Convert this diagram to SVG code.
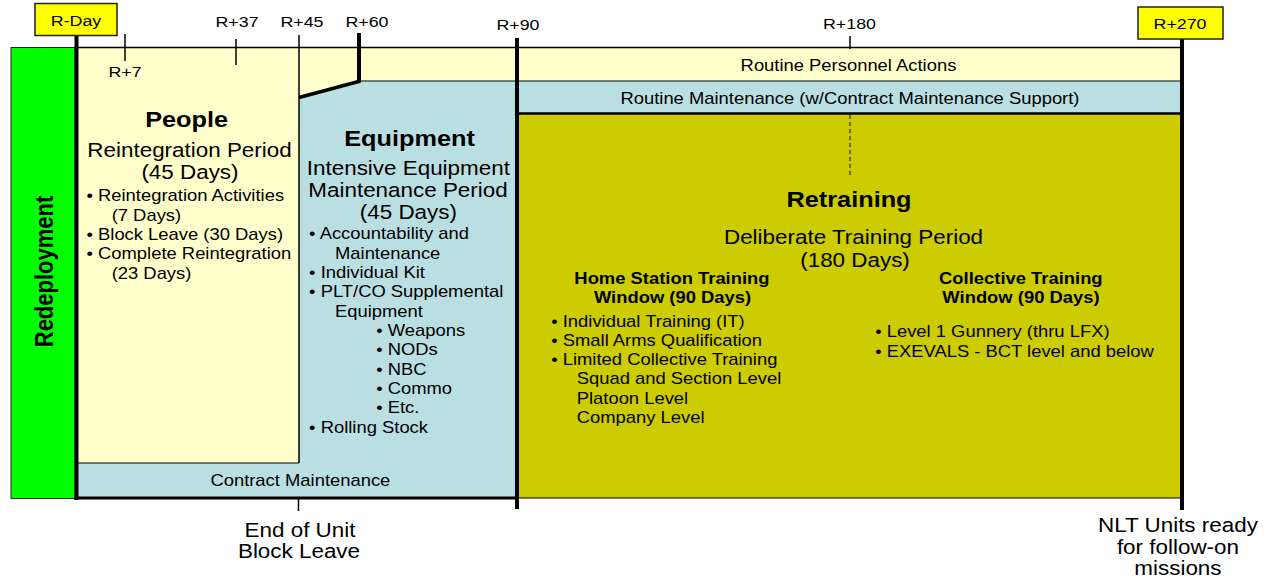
<svg xmlns="http://www.w3.org/2000/svg" width="1270" height="579" viewBox="0 0 1270 579">
<style>
text{font-family:"Liberation Sans",Arial,sans-serif;fill:#000}
.lbl{font-size:15.5px;text-anchor:middle}
.band{font-size:16px;text-anchor:middle}
.h{font-size:22px;font-weight:bold;text-anchor:middle}
.sub{font-size:19.5px;text-anchor:middle}
.b{font-size:16px}
.hb{font-size:16px;font-weight:bold;text-anchor:middle}
.thin{stroke:#000;stroke-width:1.5;fill:none}
.thick{stroke:#000;stroke-width:4;fill:none}
</style>
<rect width="1270" height="579" fill="#fff"/>

<g id="redeployment">
<rect x="11" y="47.5" width="64" height="451" fill="#00FF00" stroke="#222" stroke-width="1"/>
<text class="h" transform="translate(53,271.5) scale(1.15,1) rotate(-90)" x="0" y="0">Redeployment</text>
</g>

<g id="people">
<polygon points="78,48 1182,48 1182,81 359,81 299,97 299,463 78,463" fill="#FFFFCC"/>
<g transform="scale(1.15 1)">
<text class="h" x="162.3" y="127">People</text>
<text class="sub" x="164.8" y="156.7">Reintegration Period</text>
<text class="sub" x="165.2" y="179.5">(45 Days)</text>
<text class="b" x="75.2" y="201.5">• Reintegration Activities</text>
<text class="b" x="97.1" y="220.8">(7 Days)</text>
<text class="b" x="75.2" y="240">• Block Leave (30 Days)</text>
<text class="b" x="75.2" y="259.3">• Complete Reintegration</text>
<text class="b" x="97.1" y="278.6">(23 Days)</text>
<text class="band" x="737.8" y="70.7">Routine Personnel Actions</text>
</g>
</g>

<g id="equipment">
<polygon points="299,97 359,81 1182,81 1182,113 517,113 517,498 78,498 78,463 299,463" fill="#BADFE3"/>
<g transform="scale(1.15 1)">
<text class="h" x="356.1" y="146">Equipment</text>
<text class="sub" x="355.1" y="175">Intensive Equipment</text>
<text class="sub" x="354.8" y="197.3">Maintenance Period</text>
<text class="sub" x="355.1" y="219.5">(45 Days)</text>
<text class="b" x="268.8" y="239.3">• Accountability and</text>
<text class="b" x="291.3" y="258.6">Maintenance</text>
<text class="b" x="268.8" y="278">• Individual Kit</text>
<text class="b" x="268.8" y="297.3">• PLT/CO Supplemental</text>
<text class="b" x="291.3" y="316.6">Equipment</text>
<text class="b" x="327.1" y="336">• Weapons</text>
<text class="b" x="327.1" y="355.3">• NODs</text>
<text class="b" x="327.1" y="374.7">• NBC</text>
<text class="b" x="327.1" y="394">• Commo</text>
<text class="b" x="327.1" y="413.3">• Etc.</text>
<text class="b" x="268.8" y="432.7">• Rolling Stock</text>
<text class="band" x="261.2" y="486.5">Contract Maintenance</text>
<text class="band" x="739.1" y="104">Routine Maintenance (w/Contract Maintenance Support)</text>
</g>
</g>

<g id="retraining">
<rect x="517" y="113" width="665" height="385" fill="#CCCC00"/>
<g transform="scale(1.15 1)">
<text class="h" x="738.3" y="206.7">Retraining</text>
<text class="sub" x="742.2" y="244">Deliberate Training Period</text>
<text class="sub" x="743.5" y="267.3">(180 Days)</text>
<text class="hb" x="584.3" y="284">Home Station Training</text>
<text class="hb" x="584.8" y="302.7">Window (90 Days)</text>
<text class="b" x="479.3" y="326.7">• Individual Training (IT)</text>
<text class="b" x="479.3" y="345.7">• Small Arms Qualification</text>
<text class="b" x="479.3" y="365">• Limited Collective Training</text>
<text class="b" x="501.5" y="384.3">Squad and Section Level</text>
<text class="b" x="501.5" y="403.6">Platoon Level</text>
<text class="b" x="501.5" y="423">Company Level</text>
<text class="hb" x="887.7" y="284">Collective Training</text>
<text class="hb" x="887.8" y="303.3">Window (90 Days)</text>
<text class="b" x="761" y="337.3">• Level 1 Gunnery (thru LFX)</text>
<text class="b" x="761" y="356.6">• EXEVALS - BCT level and below</text>
</g>
</g>

<g id="connectors">
<line class="thin" x1="74" y1="47.5" x2="1182" y2="47.5"/>
<line x1="359" y1="81" x2="1182" y2="81" stroke="#000" stroke-width="1"/>
<line x1="517" y1="113.5" x2="1182" y2="113.5" stroke="#000" stroke-width="2.5"/>
<line x1="74" y1="498" x2="517" y2="498" stroke="#000" stroke-width="3"/>
<line x1="517" y1="498" x2="1182" y2="498" stroke="#000" stroke-width="1"/>
<line x1="78" y1="463" x2="299" y2="463" stroke="#000" stroke-width="1"/>
<line class="thick" x1="76.5" y1="35" x2="76.5" y2="500"/>
<line class="thin" x1="125" y1="34" x2="125" y2="61"/>
<line class="thin" x1="236" y1="39" x2="236" y2="65"/>
<line class="thin" x1="299" y1="35" x2="299" y2="463"/>
<line class="thin" x1="298.5" y1="498" x2="298.5" y2="511"/>
<line class="thick" x1="359" y1="33" x2="359" y2="82"/>
<line x1="299" y1="97.5" x2="360.5" y2="81" stroke="#000" stroke-width="3.5"/>
<line class="thick" x1="517" y1="38" x2="517" y2="509"/>
<line class="thin" x1="850" y1="36" x2="850" y2="49"/>
<line x1="850" y1="115" x2="850" y2="176" stroke="#000" stroke-width="1" stroke-dasharray="4 3"/>
<line class="thick" x1="1182" y1="39" x2="1182" y2="510"/>
</g>

<g id="milestones">
<rect x="35" y="3.5" width="82" height="32" fill="#FFFF00" stroke="#222" stroke-width="1.5"/>
<rect x="1138" y="7" width="85" height="32" fill="#FFFF00" stroke="#222" stroke-width="1.5"/>
<g transform="scale(1.15 1)">
<text class="lbl" x="66.1" y="26">R-Day</text>
<text class="lbl" x="108.7" y="77.5">R+7</text>
<text class="lbl" x="206.1" y="27">R+37</text>
<text class="lbl" x="262.6" y="27">R+45</text>
<text class="lbl" x="319.1" y="27">R+60</text>
<text class="lbl" x="450.4" y="30">R+90</text>
<text class="lbl" x="738.7" y="29">R+180</text>
<text class="lbl" x="1026.1" y="29">R+270</text>
<text class="sub" x="260.9" y="536.7">End of Unit</text>
<text class="sub" x="260" y="558.3">Block Leave</text>
<text class="sub" x="1024.3" y="532">NLT Units ready</text>
<text class="sub" x="1024.3" y="554">for follow-on</text>
<text class="sub" x="1024.3" y="575">missions</text>
</g>
</g>
</svg>
